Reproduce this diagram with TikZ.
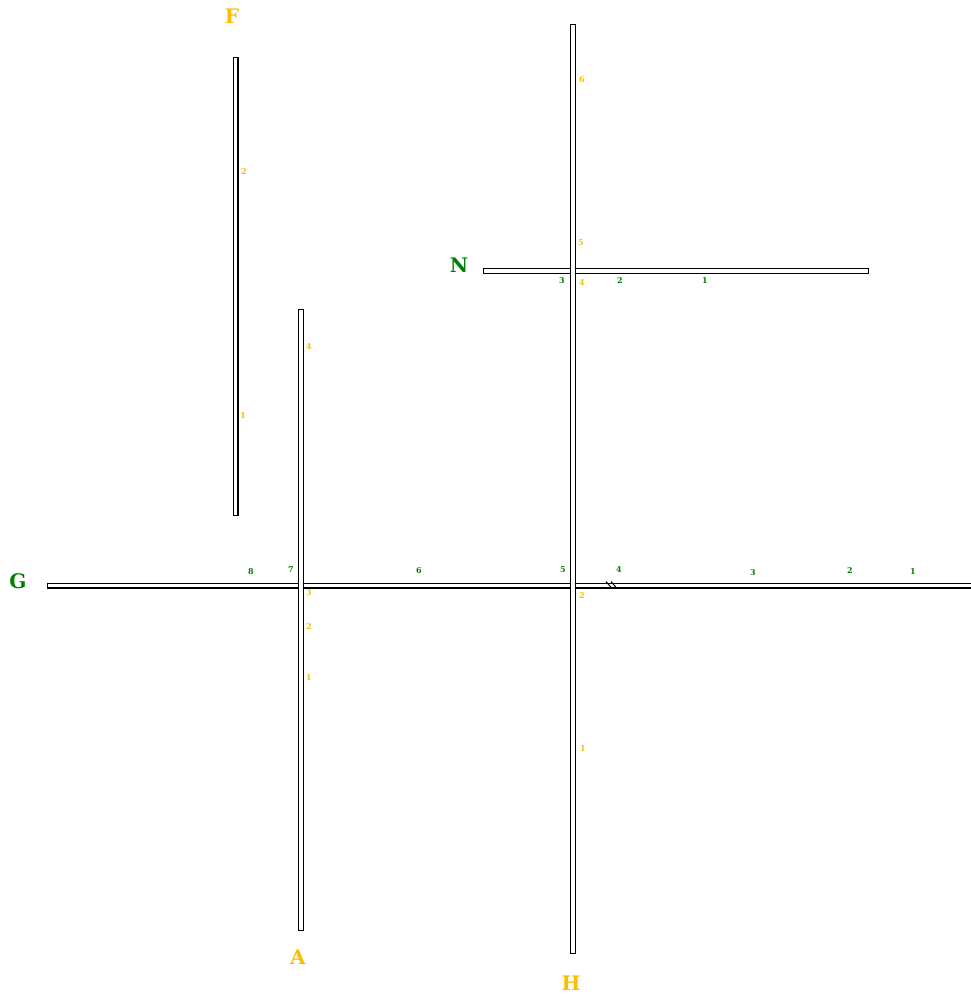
\documentclass[tikz,border=0pt]{standalone}
\usepackage{fontspec}
\newfontfamily\labfont{DejaVu Serif}
\begin{document}
\begin{tikzpicture}[x=1pt,y=-1pt,
  roadout/.style={draw=black,line width=6pt,line cap=butt},
  roadin/.style={draw=white,line width=3.4pt,line cap=butt,shorten >=1.3pt,shorten <=1.3pt},
  brk/.style={draw=black,line width=1pt},
  ylab/.style={text=labyellow,font=\labfont\bfseries\fontsize{20}{20}\selectfont,inner sep=0pt},
  glab/.style={text=labgreen,font=\labfont\bfseries\fontsize{20}{20}\selectfont,inner sep=0pt},
  ynum/.style={text=labyellow,font=\labfont\bfseries\fontsize{8}{8}\selectfont,inner sep=0pt},
  gnum/.style={text=labgreen,font=\labfont\bfseries\fontsize{8}{8}\selectfont,inner sep=0pt}]
\definecolor{labyellow}{RGB}{250,190,0}
\definecolor{labgreen}{RGB}{0,128,0}
\useasboundingbox[fill=white] (0,0) rectangle (971,997);
% road end points
\coordinate (Fa) at (235.5,57);  \coordinate (Fb) at (235.5,516);
\coordinate (Aa) at (301,309);   \coordinate (Ab) at (301,931);
\coordinate (Ha) at (573,24);    \coordinate (Hb) at (573,954);
\coordinate (Na) at (483,271);   \coordinate (Nb) at (869,271);
\coordinate (Ga) at (47,585.5);  \coordinate (Gb) at (975,585.5);
% horizontal roads
\draw[roadout] (Na) -- (Nb);
\draw[roadout] (Ga) -- (Gb);
\draw[roadin] (Na) -- (Nb);
\draw[roadin] (Ga) -- (Gb);
% vertical roads
\draw[roadout] (Fa) -- (Fb);
\draw[roadout] (Aa) -- (Ab);
\draw[roadout] (Ha) -- (Hb);
\draw[roadin] (Fa) -- (Fb);
\draw[roadin] (Aa) -- (Ab);
\draw[roadin] (Ha) -- (Hb);
% break mark on G
\coordinate (k1a) at (606,581.5); \coordinate (k1b) at (612,588.5);
\coordinate (k2a) at (611,581.5); \coordinate (k2b) at (617,588.5);
\draw[brk] (k1a) -- (k1b);
\draw[brk] (k2a) -- (k2b);
% road names
\node[ylab] (lF) at (232,16) {F};
\node[ylab] (lA) at (298,957) {A};
\node[ylab] (lH) at (571,983) {H};
\node[glab] (lN) at (459,265) {N};
\node[glab] (lG) at (18,581) {G};
% F numbers
\node[ynum] (f2) at (244,172) {2};
\node[ynum] (f1) at (243,416) {1};
% A numbers
\node[ynum] (a4) at (309,347) {4};
\node[ynum] (a3) at (309,593) {3};
\node[ynum] (a2) at (309,627) {2};
\node[ynum] (a1) at (309,678) {1};
% H numbers
\node[ynum] (h6) at (582,80) {6};
\node[ynum] (h5) at (581,243) {5};
\node[ynum] (h4) at (582,283) {4};
\node[ynum] (h2) at (582,596) {2};
\node[ynum] (h1) at (583,749) {1};
% N numbers
\node[gnum] (n3) at (562,281) {3};
\node[gnum] (n2) at (620,281) {2};
\node[gnum] (n1) at (705,281) {1};
% G numbers
\node[gnum] (g8) at (251,572) {8};
\node[gnum] (g7) at (291,570) {7};
\node[gnum] (g6) at (419,571) {6};
\node[gnum] (g5) at (563,570) {5};
\node[gnum] (g4) at (619,570) {4};
\node[gnum] (g3) at (753,573) {3};
\node[gnum] (g2) at (850,571) {2};
\node[gnum] (g1) at (913,572) {1};
\end{tikzpicture}
\end{document}
